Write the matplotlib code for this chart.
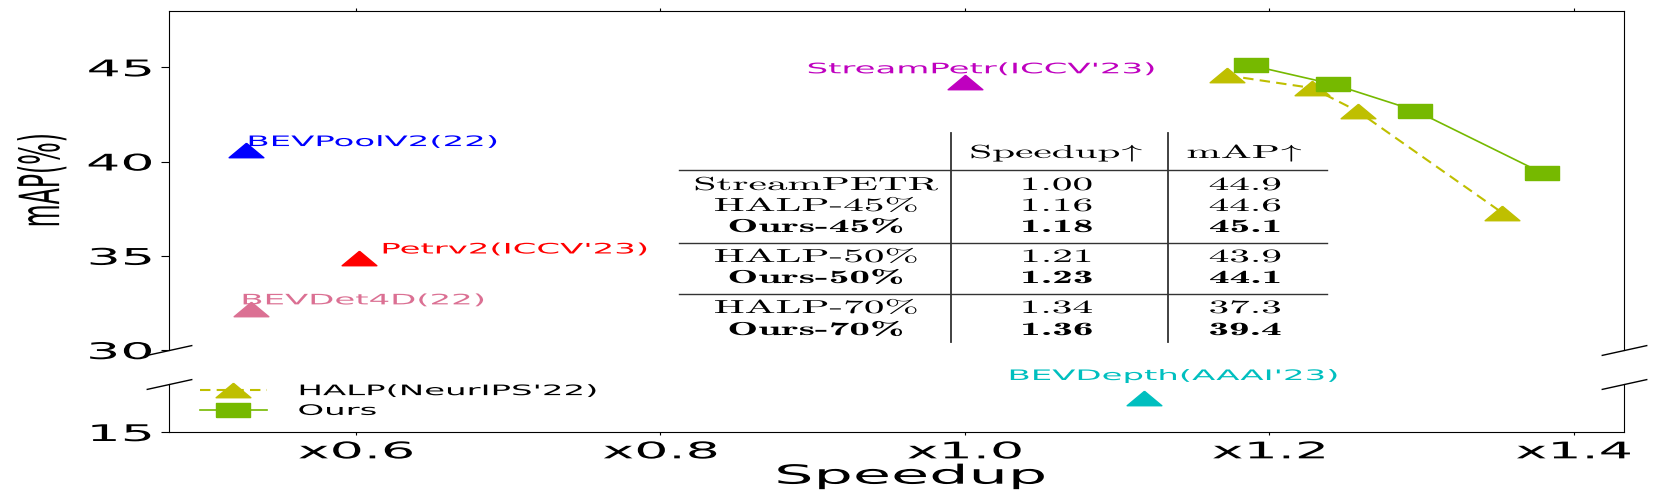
import matplotlib
matplotlib.use('Agg')
import matplotlib.pyplot as plt
from matplotlib.patheffects import AbstractPathEffect
from matplotlib.transforms import Affine2D
from matplotlib.lines import Line2D

# ---- data ----
halp_x = [1.172, 1.228, 1.258, 1.353]
halp_y = [44.57, 43.9, 42.67, 37.28]
ours_x = [1.188, 1.242, 1.296, 1.379]
ours_y = [45.1, 44.1, 42.7, 39.4]

other_names = ["BEVPoolV2(22)", "Petrv2(ICCV'23)", "BEVDet4D(22)", "StreamPetr(ICCV'23)"]
other_x = [0.528, 0.602, 0.531, 1.0]
other_y = [40.6, 34.9, 32.2, 44.2]
other_colors = ['#0000ff', '#ff0000', 'palevioletred', '#bf00bf']
label_dx = [0.0, 0.014, -0.007, -0.104]
label_dy = [0.22, 0.22, 0.22, 0.48]

low_names = ["BEVDepth(AAAI'23)"]
low_x = [1.118]
low_y = [17.1]
low_colors = ['#00bfbf']
low_dx = [-0.09]
low_dy = [1.15]

xticks = [0.6, 0.8, 1.0, 1.2, 1.4]
xtick_labels = ['x0.6', 'x0.8', 'x1.0', 'x1.2', 'x1.4']

tab_methods = ['StreamPETR', 'HALP-45%', 'Ours-45%', 'HALP-50%', 'Ours-50%', 'HALP-70%', 'Ours-70%']
tab_speedup = ['1.00', '1.16', '1.18', '1.21', '1.23', '1.34', '1.36']
tab_map = ['44.9', '44.6', '45.1', '43.9', '44.1', '37.3', '39.4']
tab_bold = [False, False, True, False, True, False, True]

W, H = 1661, 498
S = 2.35      # the reference is stretched sideways
S_TAB = 2.2


class Stretch(AbstractPathEffect):
    """Stretch text glyphs horizontally about an anchor."""
    def __init__(self, sx, anchor='left'):
        super().__init__()
        self.sx = sx
        self.anchor = anchor

    def draw_path(self, renderer, gc, tpath, affine, rgbFace=None):
        ext = tpath.get_extents()
        if self.anchor == 'left':
            px = 0.0
        elif self.anchor == 'right':
            px = ext.x1
        else:
            px = (ext.x0 + ext.x1) / 2
        py = (ext.y0 + ext.y1) / 2
        ax_, ay_ = affine.transform((px, py))
        t = Affine2D(affine.get_matrix()).translate(-ax_, -ay_).scale(self.sx, 1.0).translate(ax_, ay_)
        renderer.draw_path(gc, tpath, t, rgbFace)


def fx(px):
    return px / W


def fy(py):
    return 1 - py / H


plt.rcParams['mathtext.fontset'] = 'cm'

tri = [(0, 1), (-2.4, -1), (2.4, -1), (0, 1)]
sq = [(-2.4, -1), (2.4, -1), (2.4, 1), (-2.4, 1), (-2.4, -1)]

fig = plt.figure(figsize=(W / 100, H / 100), dpi=100)
ax = fig.add_axes([fx(168.75), fy(350), fx(1624) - fx(168.75), fy(10.7) - fy(350)])
ax2 = fig.add_axes([fx(168.75), fy(432), fx(1624) - fx(168.75), fy(384) - fy(432)])

l_halp, = ax.plot(halp_x, halp_y, color='#bfbf00', linestyle=(0, (5, 3)), lw=1.5,
                  marker=tri, markersize=25, label="HALP(NeurIPS'22)")
l_ours, = ax.plot(ours_x, ours_y, color='#76b900', lw=1.2,
                  marker=sq, markersize=24, label='Ours')

for name, x, y, c, dx, dy in zip(other_names, other_x, other_y, other_colors, label_dx, label_dy):
    ax.plot([x], [y], linestyle='none', marker=tri, markersize=25, color=c)
    ax.text(x + dx, y + dy, name, color=c, fontsize=10.4, va='baseline', ha='left',
            path_effects=[Stretch(S, 'left')])

for name, x, y, c, dx, dy in zip(low_names, low_x, low_y, low_colors, low_dx, low_dy):
    ax2.plot([x], [y], linestyle='none', marker=tri, markersize=25, color=c)
    ax2.text(x + dx, y + dy, name, color=c, fontsize=10.4, va='baseline', ha='left',
             path_effects=[Stretch(S, 'left')])

ax.set_xlim(0.477, 1.433)
ax2.set_xlim(0.477, 1.433)
ax.set_ylim(30, 48)
ax2.set_ylim(15, 18)

ax.spines['bottom'].set_visible(False)
ax2.spines['top'].set_visible(False)
ax.set_xticks(xticks)
ax.tick_params(axis='x', top=True, bottom=False, labeltop=False, labelbottom=False,
               direction='out', length=2.5)
ax.set_yticks([30, 35, 40, 45])
ax.tick_params(axis='y', labelsize=16.5, length=5.8, pad=6)
ax2.set_xticks(xticks)
ax2.set_xticklabels(xtick_labels)
ax2.set_yticks([15])
ax2.tick_params(axis='x', labelsize=16.5, length=2.5, pad=3.5)
ax2.tick_params(axis='y', labelsize=16.5, length=5.8, pad=6)

for lab in ax.get_yticklabels() + ax2.get_yticklabels():
    lab.set_path_effects([Stretch(S, 'right')])
for lab in ax2.get_xticklabels():
    lab.set_path_effects([Stretch(S, 'center')])

ax2.set_xlabel('Speedup', fontsize=19, path_effects=[Stretch(S, 'center')])
ax2.xaxis.set_label_coords(0.51, -0.66)
ax.set_ylabel('mAP(%)', fontsize=17, va='center', path_effects=[Stretch(S, 'center')])
ax.yaxis.set_label_coords(-0.087, 0.5)

# broken-axis marks
brk = dict(marker=[(-1, -0.22), (1, 0.22)], markersize=33, linestyle='none',
           color='k', mec='k', mew=1, clip_on=False)
ax.plot([0, 1], [0, 0], transform=ax.transAxes, **brk)
ax2.plot([0, 1], [1, 1], transform=ax2.transAxes, **brk)

leg = ax2.legend(handles=[l_halp, l_ours], loc='center left',
                 bbox_to_anchor=(fx(199.5), fy(401)), bbox_transform=fig.transFigure,
                 frameon=False, fontsize=10.4, handlelength=4.7, handletextpad=2.08,
                 labelspacing=0.4, borderpad=0, borderaxespad=0)
for t in leg.get_texts():
    t.set_path_effects([Stretch(S, 'left')])

# inset table
row_y = [185, 206, 227, 257, 278, 308, 330]
col_x = [816, 1057, 1245]
for hx, htxt in zip(col_x[1:], [r'Speedup$\!\uparrow$', r'mAP$\!\uparrow$']):
    fig.text(fx(hx), fy(153), htxt, ha='center', va='center', fontsize=13.5, family='cmr10',
             path_effects=[Stretch(S_TAB, 'center')])
for i in range(len(tab_methods)):
    fam = 'cmb10' if tab_bold[i] else 'cmr10'
    for cx, val in zip(col_x, [tab_methods[i], tab_speedup[i], tab_map[i]]):
        fig.text(fx(cx), fy(row_y[i]), val, ha='center', va='center', fontsize=13.5,
                 family=fam, path_effects=[Stretch(S_TAB, 'center')])
for hy in [170, 243, 294]:
    fig.add_artist(Line2D([fx(679), fx(1327)], [fy(hy), fy(hy)], transform=fig.transFigure,
                          color='0.2', lw=1))
for vx in [951, 1168]:
    fig.add_artist(Line2D([fx(vx), fx(vx)], [fy(133), fy(342)], transform=fig.transFigure,
                          color='0.2', lw=1.3))

plt.savefig('out.png', dpi=100)
plt.close()
